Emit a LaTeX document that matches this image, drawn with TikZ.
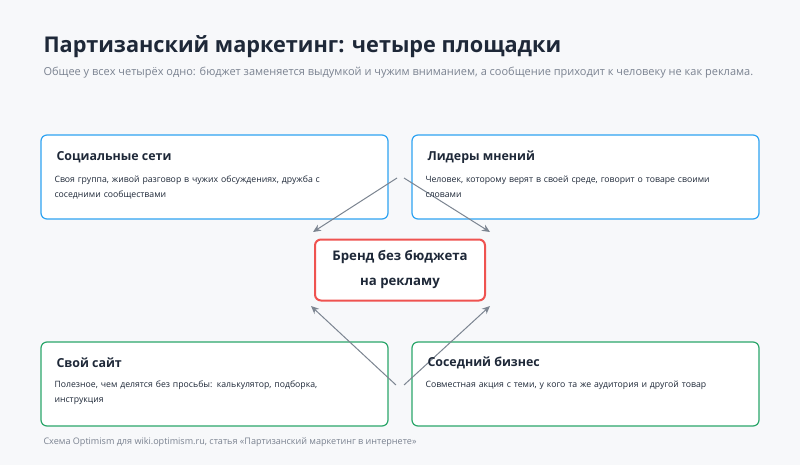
\documentclass[tikz,border=0pt]{standalone}
\usepackage{fontspec}
\setmainfont{Open Sans}
\usetikzlibrary{arrows.meta}
\definecolor{bg}{HTML}{F7F8FA}
\definecolor{ink}{HTML}{1E2838}
\definecolor{sub}{HTML}{7A8290}
\definecolor{blu}{HTML}{2EA3F2}
\definecolor{grn}{HTML}{2BA66A}
\definecolor{red}{HTML}{EF5350}
\definecolor{arr}{HTML}{7C8591}
\begin{document}
\begin{tikzpicture}[x=1pt,y=-1pt,
 card/.style={fill=white,rounded corners=6pt,line width=1.2pt},
 ttl/.style={anchor=west,font=\fontsize{12.4}{15}\selectfont\bfseries,text=ink},
 txt/.style={anchor=north west,font=\fontsize{8.7}{15}\selectfont,text=ink,text width=310pt,align=left},
 ar/.style={draw=arr,line width=1pt,-{Stealth[length=8pt,width=7pt]}}]
\fill[bg] (0,0) rectangle (800,465);
\useasboundingbox (0,0) rectangle (800,465);
\node[anchor=west,font=\fontsize{21.7}{25}\selectfont\bfseries,text=ink] (title) at (40,47) {Партизанский маркетинг: четыре площадки};
\node[anchor=west,font=\fontsize{11}{13}\selectfont,text=sub] (subt) at (40,73) {Общее у всех четырёх одно: бюджет заменяется выдумкой и чужим вниманием, а сообщение приходит к человеку не как реклама.};
\draw[card,draw=blu] (41,135) rectangle (388,219);
\draw[card,draw=blu] (412,135) rectangle (759,219);
\draw[card,draw=grn] (41,342) rectangle (388,426);
\draw[card,draw=grn] (412,342) rectangle (759,426);
\node[card,draw=red,line width=2pt,minimum width=170pt,minimum height=61pt,align=center,font=\fontsize{13.2}{25}\selectfont\bfseries,text=ink] (c) at (400,270) {Бренд без бюджета\\на рекламу};
\coordinate (t1) at (397,178); \coordinate (t2) at (404,178);
\coordinate (b1) at (396,385); \coordinate (b2) at (404,385);
\coordinate (e1) at (313,232); \coordinate (e2) at (490,232);
\coordinate (e3) at (311,306); \coordinate (e4) at (490,306);
\draw[ar] (t1) -- (e1);
\draw[ar] (t2) -- (e2);
\draw[ar] (b1) -- (e3);
\draw[ar] (b2) -- (e4);
\node[ttl] (h1) at (53,157) {Социальные сети};
\node[txt] (d1) at (51,172) {Своя группа, живой разговор в чужих обсуждениях, дружба с соседними сообществами};
\node[ttl] (h2) at (424,157) {Лидеры мнений};
\node[txt] (d2) at (422,172) {Человек, которому верят в своей среде, говорит о товаре своими словами};
\node[ttl] (h3) at (53,363) {Свой сайт};
\node[txt] (d3) at (51,377) {Полезное, чем делятся без просьбы: калькулятор, подборка, инструкция};
\node[ttl] (h4) at (424,363) {Соседний бизнес};
\node[txt] (d4) at (422,377) {Совместная акция с теми, у кого та же аудитория и другой товар};
\node[anchor=west,font=\fontsize{9.05}{11}\selectfont,text=sub] (foot) at (40,442) {Схема Optimism для wiki.optimism.ru, статья «Партизанский маркетинг в интернете»};
\end{tikzpicture}
\end{document}
